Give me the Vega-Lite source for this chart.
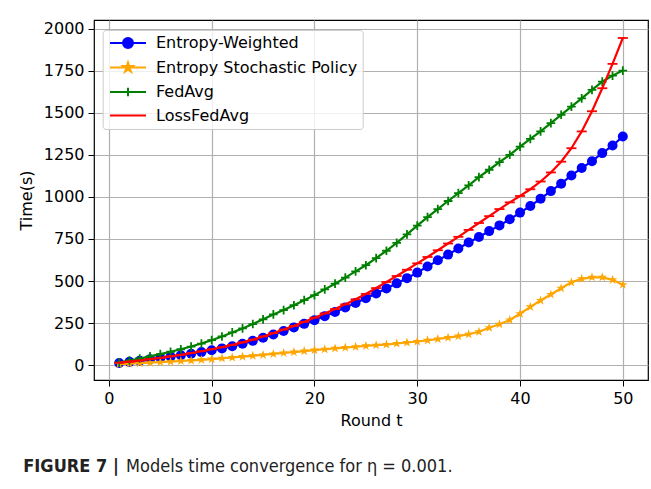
{
  "$schema": "https://vega.github.io/schema/vega-lite/v6.json",
  "width": 554,
  "height": 360,
  "autosize": "none",
  "padding": {"left": 94, "top": 20, "right": 3, "bottom": 109},
  "background": "white",
  "title": {
    "text": "FIGURE 7 |",
    "subtitle": "\u200b\u00a0\u00a0\u00a0\u00a0\u00a0\u00a0\u00a0\u00a0\u00a0\u00a0\u00a0\u00a0\u00a0\u00a0\u00a0\u00a0\u00a0\u00a0\u00a0\u00a0Models time convergence for η = 0.001.",
    "orient": "bottom",
    "anchor": "start",
    "frame": "bounds",
    "offset": 30,
    "dx": 5,
    "font": "Liberation Sans Narrow, DejaVu Sans Condensed, Liberation Sans",
    "fontSize": 18,
    "fontWeight": "bold",
    "color": "#222222",
    "subtitleFont": "Liberation Sans Narrow, DejaVu Sans Condensed, Liberation Sans",
    "subtitleFontSize": 18,
    "subtitleFontWeight": "normal",
    "subtitleColor": "#222222",
    "subtitlePadding": -18
  },
  "data": {
    "values": [
      {"t":1,"s":"Entropy-Weighted","v":12},{"t":2,"s":"Entropy-Weighted","v":19},{"t":3,"s":"Entropy-Weighted","v":26},{"t":4,"s":"Entropy-Weighted","v":34},{"t":5,"s":"Entropy-Weighted","v":42},
      {"t":6,"s":"Entropy-Weighted","v":50},{"t":7,"s":"Entropy-Weighted","v":58},{"t":8,"s":"Entropy-Weighted","v":67},{"t":9,"s":"Entropy-Weighted","v":77},{"t":10,"s":"Entropy-Weighted","v":88},
      {"t":11,"s":"Entropy-Weighted","v":99},{"t":12,"s":"Entropy-Weighted","v":112},{"t":13,"s":"Entropy-Weighted","v":127},{"t":14,"s":"Entropy-Weighted","v":144},{"t":15,"s":"Entropy-Weighted","v":162},
      {"t":16,"s":"Entropy-Weighted","v":182},{"t":17,"s":"Entropy-Weighted","v":203},{"t":18,"s":"Entropy-Weighted","v":224},{"t":19,"s":"Entropy-Weighted","v":245},{"t":20,"s":"Entropy-Weighted","v":267},
      {"t":21,"s":"Entropy-Weighted","v":291},{"t":22,"s":"Entropy-Weighted","v":316},{"t":23,"s":"Entropy-Weighted","v":342},{"t":24,"s":"Entropy-Weighted","v":369},{"t":25,"s":"Entropy-Weighted","v":397},
      {"t":26,"s":"Entropy-Weighted","v":426},{"t":27,"s":"Entropy-Weighted","v":456},{"t":28,"s":"Entropy-Weighted","v":486},{"t":29,"s":"Entropy-Weighted","v":517},{"t":30,"s":"Entropy-Weighted","v":550},
      {"t":31,"s":"Entropy-Weighted","v":586},{"t":32,"s":"Entropy-Weighted","v":623},{"t":33,"s":"Entropy-Weighted","v":657},{"t":34,"s":"Entropy-Weighted","v":693},{"t":35,"s":"Entropy-Weighted","v":729},
      {"t":36,"s":"Entropy-Weighted","v":762},{"t":37,"s":"Entropy-Weighted","v":797},{"t":38,"s":"Entropy-Weighted","v":831},{"t":39,"s":"Entropy-Weighted","v":867},{"t":40,"s":"Entropy-Weighted","v":907},
      {"t":41,"s":"Entropy-Weighted","v":946},{"t":42,"s":"Entropy-Weighted","v":990},{"t":43,"s":"Entropy-Weighted","v":1035},{"t":44,"s":"Entropy-Weighted","v":1079},{"t":45,"s":"Entropy-Weighted","v":1128},
      {"t":46,"s":"Entropy-Weighted","v":1172},{"t":47,"s":"Entropy-Weighted","v":1213},{"t":48,"s":"Entropy-Weighted","v":1261},{"t":49,"s":"Entropy-Weighted","v":1306},{"t":50,"s":"Entropy-Weighted","v":1360},

      {"t":1,"s":"Entropy Stochastic Policy","v":5},{"t":2,"s":"Entropy Stochastic Policy","v":8},{"t":3,"s":"Entropy Stochastic Policy","v":11},{"t":4,"s":"Entropy Stochastic Policy","v":14},{"t":5,"s":"Entropy Stochastic Policy","v":17},
      {"t":6,"s":"Entropy Stochastic Policy","v":20},{"t":7,"s":"Entropy Stochastic Policy","v":24},{"t":8,"s":"Entropy Stochastic Policy","v":27},{"t":9,"s":"Entropy Stochastic Policy","v":31},{"t":10,"s":"Entropy Stochastic Policy","v":35},
      {"t":11,"s":"Entropy Stochastic Policy","v":40},{"t":12,"s":"Entropy Stochastic Policy","v":45},{"t":13,"s":"Entropy Stochastic Policy","v":50},{"t":14,"s":"Entropy Stochastic Policy","v":55},{"t":15,"s":"Entropy Stochastic Policy","v":60},
      {"t":16,"s":"Entropy Stochastic Policy","v":66},{"t":17,"s":"Entropy Stochastic Policy","v":72},{"t":18,"s":"Entropy Stochastic Policy","v":77},{"t":19,"s":"Entropy Stochastic Policy","v":83},{"t":20,"s":"Entropy Stochastic Policy","v":89},
      {"t":21,"s":"Entropy Stochastic Policy","v":94},{"t":22,"s":"Entropy Stochastic Policy","v":99},{"t":23,"s":"Entropy Stochastic Policy","v":104},{"t":24,"s":"Entropy Stochastic Policy","v":109},{"t":25,"s":"Entropy Stochastic Policy","v":114},
      {"t":26,"s":"Entropy Stochastic Policy","v":118},{"t":27,"s":"Entropy Stochastic Policy","v":122},{"t":28,"s":"Entropy Stochastic Policy","v":128},{"t":29,"s":"Entropy Stochastic Policy","v":134},{"t":30,"s":"Entropy Stochastic Policy","v":140},
      {"t":31,"s":"Entropy Stochastic Policy","v":147},{"t":32,"s":"Entropy Stochastic Policy","v":155},{"t":33,"s":"Entropy Stochastic Policy","v":163},{"t":34,"s":"Entropy Stochastic Policy","v":172},{"t":35,"s":"Entropy Stochastic Policy","v":183},
      {"t":36,"s":"Entropy Stochastic Policy","v":198},{"t":37,"s":"Entropy Stochastic Policy","v":222},{"t":38,"s":"Entropy Stochastic Policy","v":243},{"t":39,"s":"Entropy Stochastic Policy","v":268},{"t":40,"s":"Entropy Stochastic Policy","v":305},
      {"t":41,"s":"Entropy Stochastic Policy","v":346},{"t":42,"s":"Entropy Stochastic Policy","v":384},{"t":43,"s":"Entropy Stochastic Policy","v":420},{"t":44,"s":"Entropy Stochastic Policy","v":457},{"t":45,"s":"Entropy Stochastic Policy","v":492},
      {"t":46,"s":"Entropy Stochastic Policy","v":513},{"t":47,"s":"Entropy Stochastic Policy","v":522},{"t":48,"s":"Entropy Stochastic Policy","v":522},{"t":49,"s":"Entropy Stochastic Policy","v":507},{"t":50,"s":"Entropy Stochastic Policy","v":478},

      {"t":1,"s":"FedAvg","v":15},{"t":2,"s":"FedAvg","v":27},{"t":3,"s":"FedAvg","v":39},{"t":4,"s":"FedAvg","v":52},{"t":5,"s":"FedAvg","v":65},
      {"t":6,"s":"FedAvg","v":79},{"t":7,"s":"FedAvg","v":94},{"t":8,"s":"FedAvg","v":110},{"t":9,"s":"FedAvg","v":128},{"t":10,"s":"FedAvg","v":148},
      {"t":11,"s":"FedAvg","v":170},{"t":12,"s":"FedAvg","v":194},{"t":13,"s":"FedAvg","v":218},{"t":14,"s":"FedAvg","v":244},{"t":15,"s":"FedAvg","v":272},
      {"t":16,"s":"FedAvg","v":301},{"t":17,"s":"FedAvg","v":327},{"t":18,"s":"FedAvg","v":356},{"t":19,"s":"FedAvg","v":386},{"t":20,"s":"FedAvg","v":416},
      {"t":21,"s":"FedAvg","v":450},{"t":22,"s":"FedAvg","v":484},{"t":23,"s":"FedAvg","v":520},{"t":24,"s":"FedAvg","v":557},{"t":25,"s":"FedAvg","v":594},
      {"t":26,"s":"FedAvg","v":636},{"t":27,"s":"FedAvg","v":680},{"t":28,"s":"FedAvg","v":727},{"t":29,"s":"FedAvg","v":777},{"t":30,"s":"FedAvg","v":830},
      {"t":31,"s":"FedAvg","v":880},{"t":32,"s":"FedAvg","v":928},{"t":33,"s":"FedAvg","v":976},{"t":34,"s":"FedAvg","v":1023},{"t":35,"s":"FedAvg","v":1069},
      {"t":36,"s":"FedAvg","v":1118},{"t":37,"s":"FedAvg","v":1162},{"t":38,"s":"FedAvg","v":1207},{"t":39,"s":"FedAvg","v":1251},{"t":40,"s":"FedAvg","v":1300},
      {"t":41,"s":"FedAvg","v":1346},{"t":42,"s":"FedAvg","v":1390},{"t":43,"s":"FedAvg","v":1439},{"t":44,"s":"FedAvg","v":1489},{"t":45,"s":"FedAvg","v":1538},
      {"t":46,"s":"FedAvg","v":1587},{"t":47,"s":"FedAvg","v":1637},{"t":48,"s":"FedAvg","v":1686},{"t":49,"s":"FedAvg","v":1722},{"t":50,"s":"FedAvg","v":1752},

      {"t":1,"s":"LossFedAvg","v":14},{"t":2,"s":"LossFedAvg","v":20},{"t":3,"s":"LossFedAvg","v":27},{"t":4,"s":"LossFedAvg","v":35},{"t":5,"s":"LossFedAvg","v":43},
      {"t":6,"s":"LossFedAvg","v":52},{"t":7,"s":"LossFedAvg","v":61},{"t":8,"s":"LossFedAvg","v":71},{"t":9,"s":"LossFedAvg","v":82},{"t":10,"s":"LossFedAvg","v":94},
      {"t":11,"s":"LossFedAvg","v":106},{"t":12,"s":"LossFedAvg","v":120},{"t":13,"s":"LossFedAvg","v":135},{"t":14,"s":"LossFedAvg","v":151},{"t":15,"s":"LossFedAvg","v":170},
      {"t":16,"s":"LossFedAvg","v":190},{"t":17,"s":"LossFedAvg","v":211},{"t":18,"s":"LossFedAvg","v":233},{"t":19,"s":"LossFedAvg","v":257},{"t":20,"s":"LossFedAvg","v":282},
      {"t":21,"s":"LossFedAvg","v":307},{"t":22,"s":"LossFedAvg","v":333},{"t":23,"s":"LossFedAvg","v":361},{"t":24,"s":"LossFedAvg","v":391},{"t":25,"s":"LossFedAvg","v":423},
      {"t":26,"s":"LossFedAvg","v":458},{"t":27,"s":"LossFedAvg","v":494},{"t":28,"s":"LossFedAvg","v":530},{"t":29,"s":"LossFedAvg","v":567},{"t":30,"s":"LossFedAvg","v":605},
      {"t":31,"s":"LossFedAvg","v":643},{"t":32,"s":"LossFedAvg","v":683},{"t":33,"s":"LossFedAvg","v":723},{"t":34,"s":"LossFedAvg","v":763},{"t":35,"s":"LossFedAvg","v":804},
      {"t":36,"s":"LossFedAvg","v":845},{"t":37,"s":"LossFedAvg","v":886},{"t":38,"s":"LossFedAvg","v":928},{"t":39,"s":"LossFedAvg","v":968},{"t":40,"s":"LossFedAvg","v":1006},
      {"t":41,"s":"LossFedAvg","v":1046},{"t":42,"s":"LossFedAvg","v":1092},{"t":43,"s":"LossFedAvg","v":1146},{"t":44,"s":"LossFedAvg","v":1210},{"t":45,"s":"LossFedAvg","v":1290},
      {"t":46,"s":"LossFedAvg","v":1390},{"t":47,"s":"LossFedAvg","v":1510},{"t":48,"s":"LossFedAvg","v":1647},{"t":49,"s":"LossFedAvg","v":1792},{"t":50,"s":"LossFedAvg","v":1946}
    ]
  },
  "encoding": {
    "x": {
      "field": "t", "type": "quantitative",
      "scale": {"domain": [-1.45, 52.45], "nice": false, "zero": false},
      "axis": {"values": [0, 10, 20, 30, 40, 50], "title": "Round t", "titlePadding": 6}
    },
    "y": {
      "field": "v", "type": "quantitative",
      "scale": {"domain": [-89, 2053], "nice": false, "zero": false},
      "axis": {"values": [0, 250, 500, 750, 1000, 1250, 1500, 1750, 2000], "format": "d", "title": "Time(s)", "titlePadding": 9}
    },
    "color": {
      "field": "s", "type": "nominal",
      "scale": {
        "domain": ["Entropy-Weighted", "Entropy Stochastic Policy", "FedAvg", "LossFedAvg"],
        "range": ["#0000ff", "#ffa500", "#008000", "#ff0000"]
      },
      "legend": {
        "title": null,
        "orient": "none",
        "legendX": 8.7,
        "legendY": 10,
        "padding": 5,
        "strokeColor": "#cccccc",
        "fillColor": "rgba(255,255,255,0.8)",
        "cornerRadius": 3,
        "symbolSize": 100,
        "symbolOffset": 12.3,
        "labelOffset": 20,
        "rowPadding": 6.5,
        "labelFont": "DejaVu Sans",
        "labelFontSize": 16,
        "labelColor": "black",
        "labelLimit": 400,
        "encode": {
          "symbols": {
            "update": {
              "shape": {"signal": "datum.value === 'Entropy-Weighted' ? 'M-3.6,0H3.6M1,0A1,1 0 1 1 -1,0A1,1 0 1 1 1,0Z' : datum.value === 'Entropy Stochastic Policy' ? 'M-3.6,0H3.6M0,-1L0.2245,-0.309L0.951,-0.309L0.363,0.118L0.588,0.809L0,0.382L-0.588,0.809L-0.363,0.118L-0.951,-0.309L-0.2245,-0.309Z' : datum.value === 'FedAvg' ? 'M-3.6,0H3.6M0,-0.85V0.85' : 'M-3.6,0H3.6'"},
              "fill": {"scale": "color", "field": "value"},
              "stroke": {"scale": "color", "field": "value"},
              "strokeWidth": {"value": 2},
              "opacity": {"value": 1},
              "fillOpacity": {"value": 1},
              "strokeOpacity": {"value": 1}
            }
          }
        }
      }
    }
  },
  "layer": [
    {"transform": [{"filter": "datum.s === 'Entropy-Weighted'"}], "mark": {"type": "line", "strokeWidth": 2.2}},
    {"transform": [{"filter": "datum.s === 'Entropy-Weighted'"}], "mark": {"type": "point", "shape": "circle", "filled": true, "size": 100, "opacity": 1, "strokeWidth": 0}},
    {"transform": [{"filter": "datum.s === 'Entropy Stochastic Policy'"}], "mark": {"type": "line", "strokeWidth": 2.2}},
    {"transform": [{"filter": "datum.s === 'Entropy Stochastic Policy'"}], "mark": {"type": "point", "shape": "M0,-1L0.2245,-0.309L0.951,-0.309L0.363,0.118L0.588,0.809L0,0.382L-0.588,0.809L-0.363,0.118L-0.951,-0.309L-0.2245,-0.309Z", "filled": true, "size": 100, "opacity": 1, "strokeWidth": 0}},
    {"transform": [{"filter": "datum.s === 'FedAvg'"}], "mark": {"type": "line", "strokeWidth": 2.2}},
    {"transform": [{"filter": "datum.s === 'FedAvg'"}], "mark": {"type": "point", "shape": "M-1,0H1M0,-1V1", "filled": false, "size": 75, "opacity": 1, "strokeWidth": 1.8}},
    {"transform": [{"filter": "datum.s === 'LossFedAvg'"}], "mark": {"type": "line", "strokeWidth": 2.2}},
    {"transform": [{"filter": "datum.s === 'LossFedAvg'"}], "mark": {"type": "point", "shape": "M-1,0H1", "filled": false, "size": 100, "opacity": 1, "strokeWidth": 1.8}}
  ],
  "config": {
    "view": {"stroke": "black", "strokeWidth": 1.2},
    "axis": {
      "domain": false,
      "grid": true,
      "gridColor": "#b0b0b0",
      "gridWidth": 1.2,
      "tickColor": "black",
      "tickSize": 6,
      "tickWidth": 1,
      "labelFont": "DejaVu Sans",
      "labelFontSize": 16,
      "labelColor": "black",
      "labelPadding": 4,
      "titleFont": "DejaVu Sans",
      "titleFontSize": 16,
      "titleFontWeight": "normal",
      "titleColor": "black"
    }
  }
}
